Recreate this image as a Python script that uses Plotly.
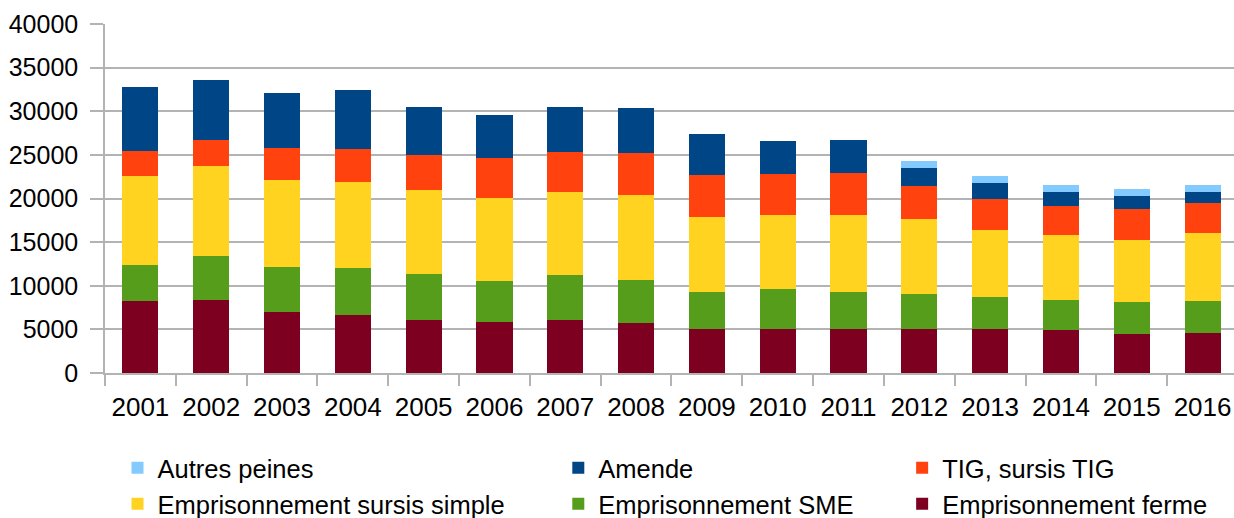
import plotly.graph_objects as go

years = ["2001", "2002", "2003", "2004", "2005", "2006", "2007", "2008",
         "2009", "2010", "2011", "2012", "2013", "2014", "2015", "2016"]

ferme = [8300, 8400, 7000, 6600, 6100, 5800, 6100, 5700, 5000, 5100, 5000, 5000, 5000, 4900, 4500, 4600]
sme = [4100, 5000, 5100, 5400, 5300, 4800, 5100, 5000, 4300, 4500, 4300, 4100, 3700, 3500, 3600, 3700]
sursis = [10200, 10300, 10000, 9900, 9600, 9500, 9500, 9700, 8600, 8500, 8800, 8500, 7700, 7400, 7100, 7700]
tig = [2900, 3000, 3700, 3800, 4000, 4500, 4600, 4800, 4800, 4700, 4800, 3800, 3600, 3300, 3600, 3500]
amende = [7300, 6900, 6300, 6700, 5500, 5000, 5200, 5200, 4700, 3800, 3800, 2100, 1800, 1600, 1500, 1300]
autres = [0, 0, 0, 0, 0, 0, 0, 0, 0, 0, 0, 800, 800, 800, 800, 800]

yticks = [0, 5000, 10000, 15000, 20000, 25000, 30000, 35000, 40000]

series = [
    ("Emprisonnement ferme", ferme, "#7e0021", "legend3", 2),
    ("Emprisonnement SME", sme, "#579d1c", "legend2", 2),
    ("Emprisonnement sursis simple", sursis, "#ffd320", "legend", 2),
    ("TIG, sursis TIG", tig, "#ff420e", "legend3", 1),
    ("Amende", amende, "#004586", "legend2", 1),
    ("Autres peines", autres, "#83caff", "legend", 1),
]

fig = go.Figure()
for name, vals, color, leg, rank in series:
    fig.add_trace(go.Bar(
        x=years, y=vals, name=name, marker_color=color, marker_line_width=0,
        legend=leg, legendrank=rank, legendgroup=name,
        hoverinfo="x+y+name",
    ))

W, H = 1234, 518
ml, mt, mb = 104.5, 24, 144.7
plot_w = W - ml
plot_h = H - mt - mb
fam = "Liberation Sans, Arial, sans-serif"
font = dict(family=fam, size=25, color="#000000")
xfont = dict(family=fam, size=26, color="#000000")
lfont = dict(family=fam, size=25.5, color="#000000")

def legx(px):
    return (px - ml) / plot_w

def legy(py):
    return (H - mb - py) / plot_h

leg_common = dict(orientation="v", yanchor="top", xanchor="left", y=legy(445),
                  font=lfont, bgcolor="rgba(0,0,0,0)", traceorder="grouped",
                  tracegroupgap=0, itemclick=False)

fig.update_layout(
    width=W, height=H,
    margin=dict(l=ml, r=0, t=mt, b=mb, pad=0, autoexpand=False),
    paper_bgcolor="white", plot_bgcolor="white",
    barmode="stack", bargap=0.49,
    font=font,
    legend=dict(x=legx(117), **leg_common),
    legend2=dict(x=legx(558), **leg_common),
    legend3=dict(x=legx(902), **leg_common),
    xaxis=dict(
        range=[-0.5, 15.444], type="category", automargin=False,
        showline=True, linecolor="#b3b3b3", linewidth=1.5,
        ticks="outside", tickson="boundaries", ticklen=11, tickcolor="#b3b3b3", tickwidth=1.5,
        ticklabelstandoff=10,
        showgrid=False, tickfont=xfont, zeroline=False,
    ),
    yaxis=dict(
        range=[0, 40000], tickvals=yticks, ticktext=[str(v) for v in yticks],
        automargin=False,
        showline=True, linecolor="#b3b3b3", linewidth=1.5,
        ticks="outside", ticklen=13, tickcolor="#b3b3b3", tickwidth=1.5,
        ticklabelstandoff=7,
        showgrid=True, gridcolor="#b3b3b3", gridwidth=1.5,
        tickfont=font, zeroline=False,
    ),
    showlegend=True,
)

fig.write_html(
    "out.html",
    config={"displayModeBar": False},
    post_script="document.body.style.margin='0';document.body.style.overflow='hidden';",
)
